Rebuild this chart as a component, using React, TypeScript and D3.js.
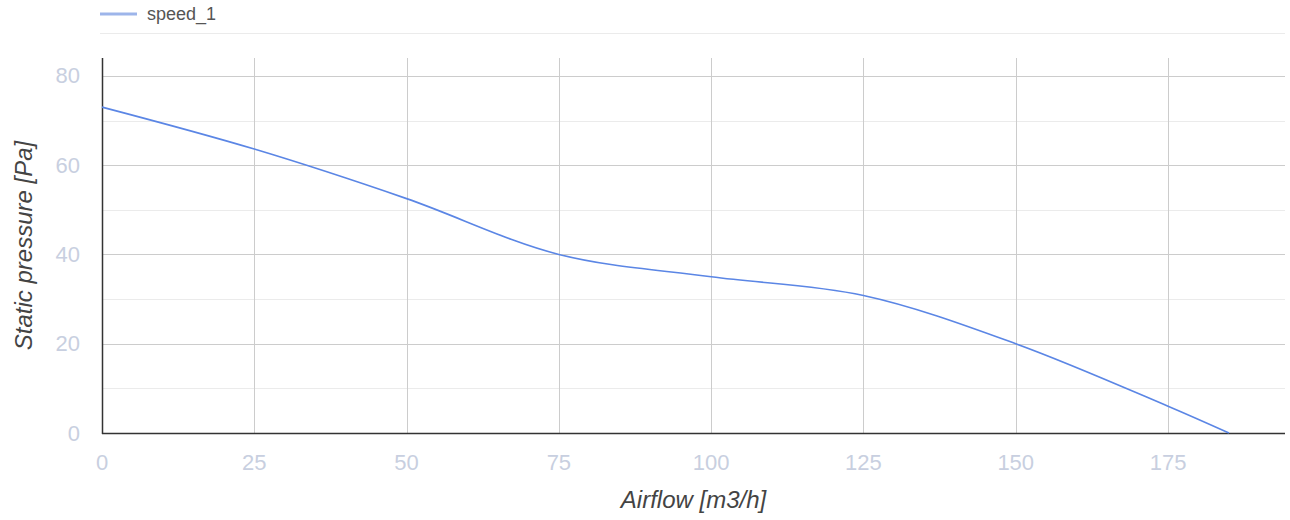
import React from "react";
import * as d3 from "d3";

const airflow = [0, 25, 50, 75, 100, 125, 150, 175, 185];
const pressure = [73, 63.6, 52.5, 40, 35, 30.8, 20, 6, 0];
const xTicks = [0, 25, 50, 75, 100, 125, 150, 175];
const yTicks = [0, 20, 40, 60, 80];
const yMinor = [10, 30, 50, 70];
const seriesName = "speed_1";

const W = 1290, H = 520;
const left = 102, right = 1285, top = 58, bottom = 433;
const FONT = "Arial, 'Liberation Sans', sans-serif";

export default function App() {
  const x = d3.scaleLinear().domain([0, 194.2]).range([left, right]);
  const y = d3.scaleLinear().domain([0, 84]).range([bottom, top]);
  const pts: [number, number][] = airflow.map((a, i) => [a, pressure[i]]);
  const line = d3
    .line<[number, number]>()
    .x((d) => x(d[0]))
    .y((d) => y(d[1]))
    .curve(d3.curveCatmullRom.alpha(0.5));

  return (
    <svg width={W} height={H} style={{ position: "absolute", left: 0, top: 0 }} fontFamily={FONT}>
      <rect width={W} height={H} fill="#fff" />
      {/* legend */}
      <line x1={100} x2={137} y1={14} y2={14} stroke="#9db5ea" strokeWidth={3} />
      <text x={147} y={14} dominantBaseline="central" fontSize={18} fill="#555">{seriesName}</text>
      <line x1={100} x2={right} y1={33.5} y2={33.5} stroke="#ebebeb" strokeWidth={1} />
      {/* minor gridlines */}
      {yMinor.map((t) => (
        <line key={"m" + t} x1={left} x2={right} y1={Math.round(y(t)) + 0.5} y2={Math.round(y(t)) + 0.5} stroke="#ebebeb" strokeWidth={1} />
      ))}
      {/* major gridlines */}
      {yTicks.filter((t) => t > 0).map((t) => (
        <line key={"h" + t} x1={left} x2={right} y1={Math.round(y(t)) + 0.5} y2={Math.round(y(t)) + 0.5} stroke="#cccccc" strokeWidth={1} />
      ))}
      {xTicks.filter((t) => t > 0).map((t) => (
        <line key={"v" + t} x1={Math.round(x(t)) + 0.5} x2={Math.round(x(t)) + 0.5} y1={top} y2={bottom} stroke="#cccccc" strokeWidth={1} />
      ))}
      {/* axes */}
      <line x1={left + 0.5} x2={left + 0.5} y1={top} y2={bottom + 1} stroke="#333" strokeWidth={1.5} />
      <line x1={left} x2={right} y1={bottom + 0.5} y2={bottom + 0.5} stroke="#333" strokeWidth={1.5} />
      {/* series */}
      <path d={line(pts) || ""} fill="none" stroke="#5b86e5" strokeWidth={1.6} />
      {/* tick labels */}
      {yTicks.map((t) => (
        <text key={"yl" + t} x={80} y={y(t)} textAnchor="end" dominantBaseline="central" fontSize={22} fill="#c8cfe0">{t}</text>
      ))}
      {xTicks.map((t) => (
        <text key={"xl" + t} x={x(t)} y={462} textAnchor="middle" dominantBaseline="central" fontSize={22} fill="#c8cfe0">{t}</text>
      ))}
      {/* axis titles */}
      <text x={(left + right) / 2} y={499} textAnchor="middle" dominantBaseline="central" fontSize={24} fontStyle="italic" fill="#444">Airflow [m3/h]</text>
      <text transform={`translate(23,${(top + bottom) / 2}) rotate(-90)`} textAnchor="middle" dominantBaseline="central" fontSize={24} fontStyle="italic" fill="#444">Static pressure [Pa]</text>
    </svg>
  );
}
